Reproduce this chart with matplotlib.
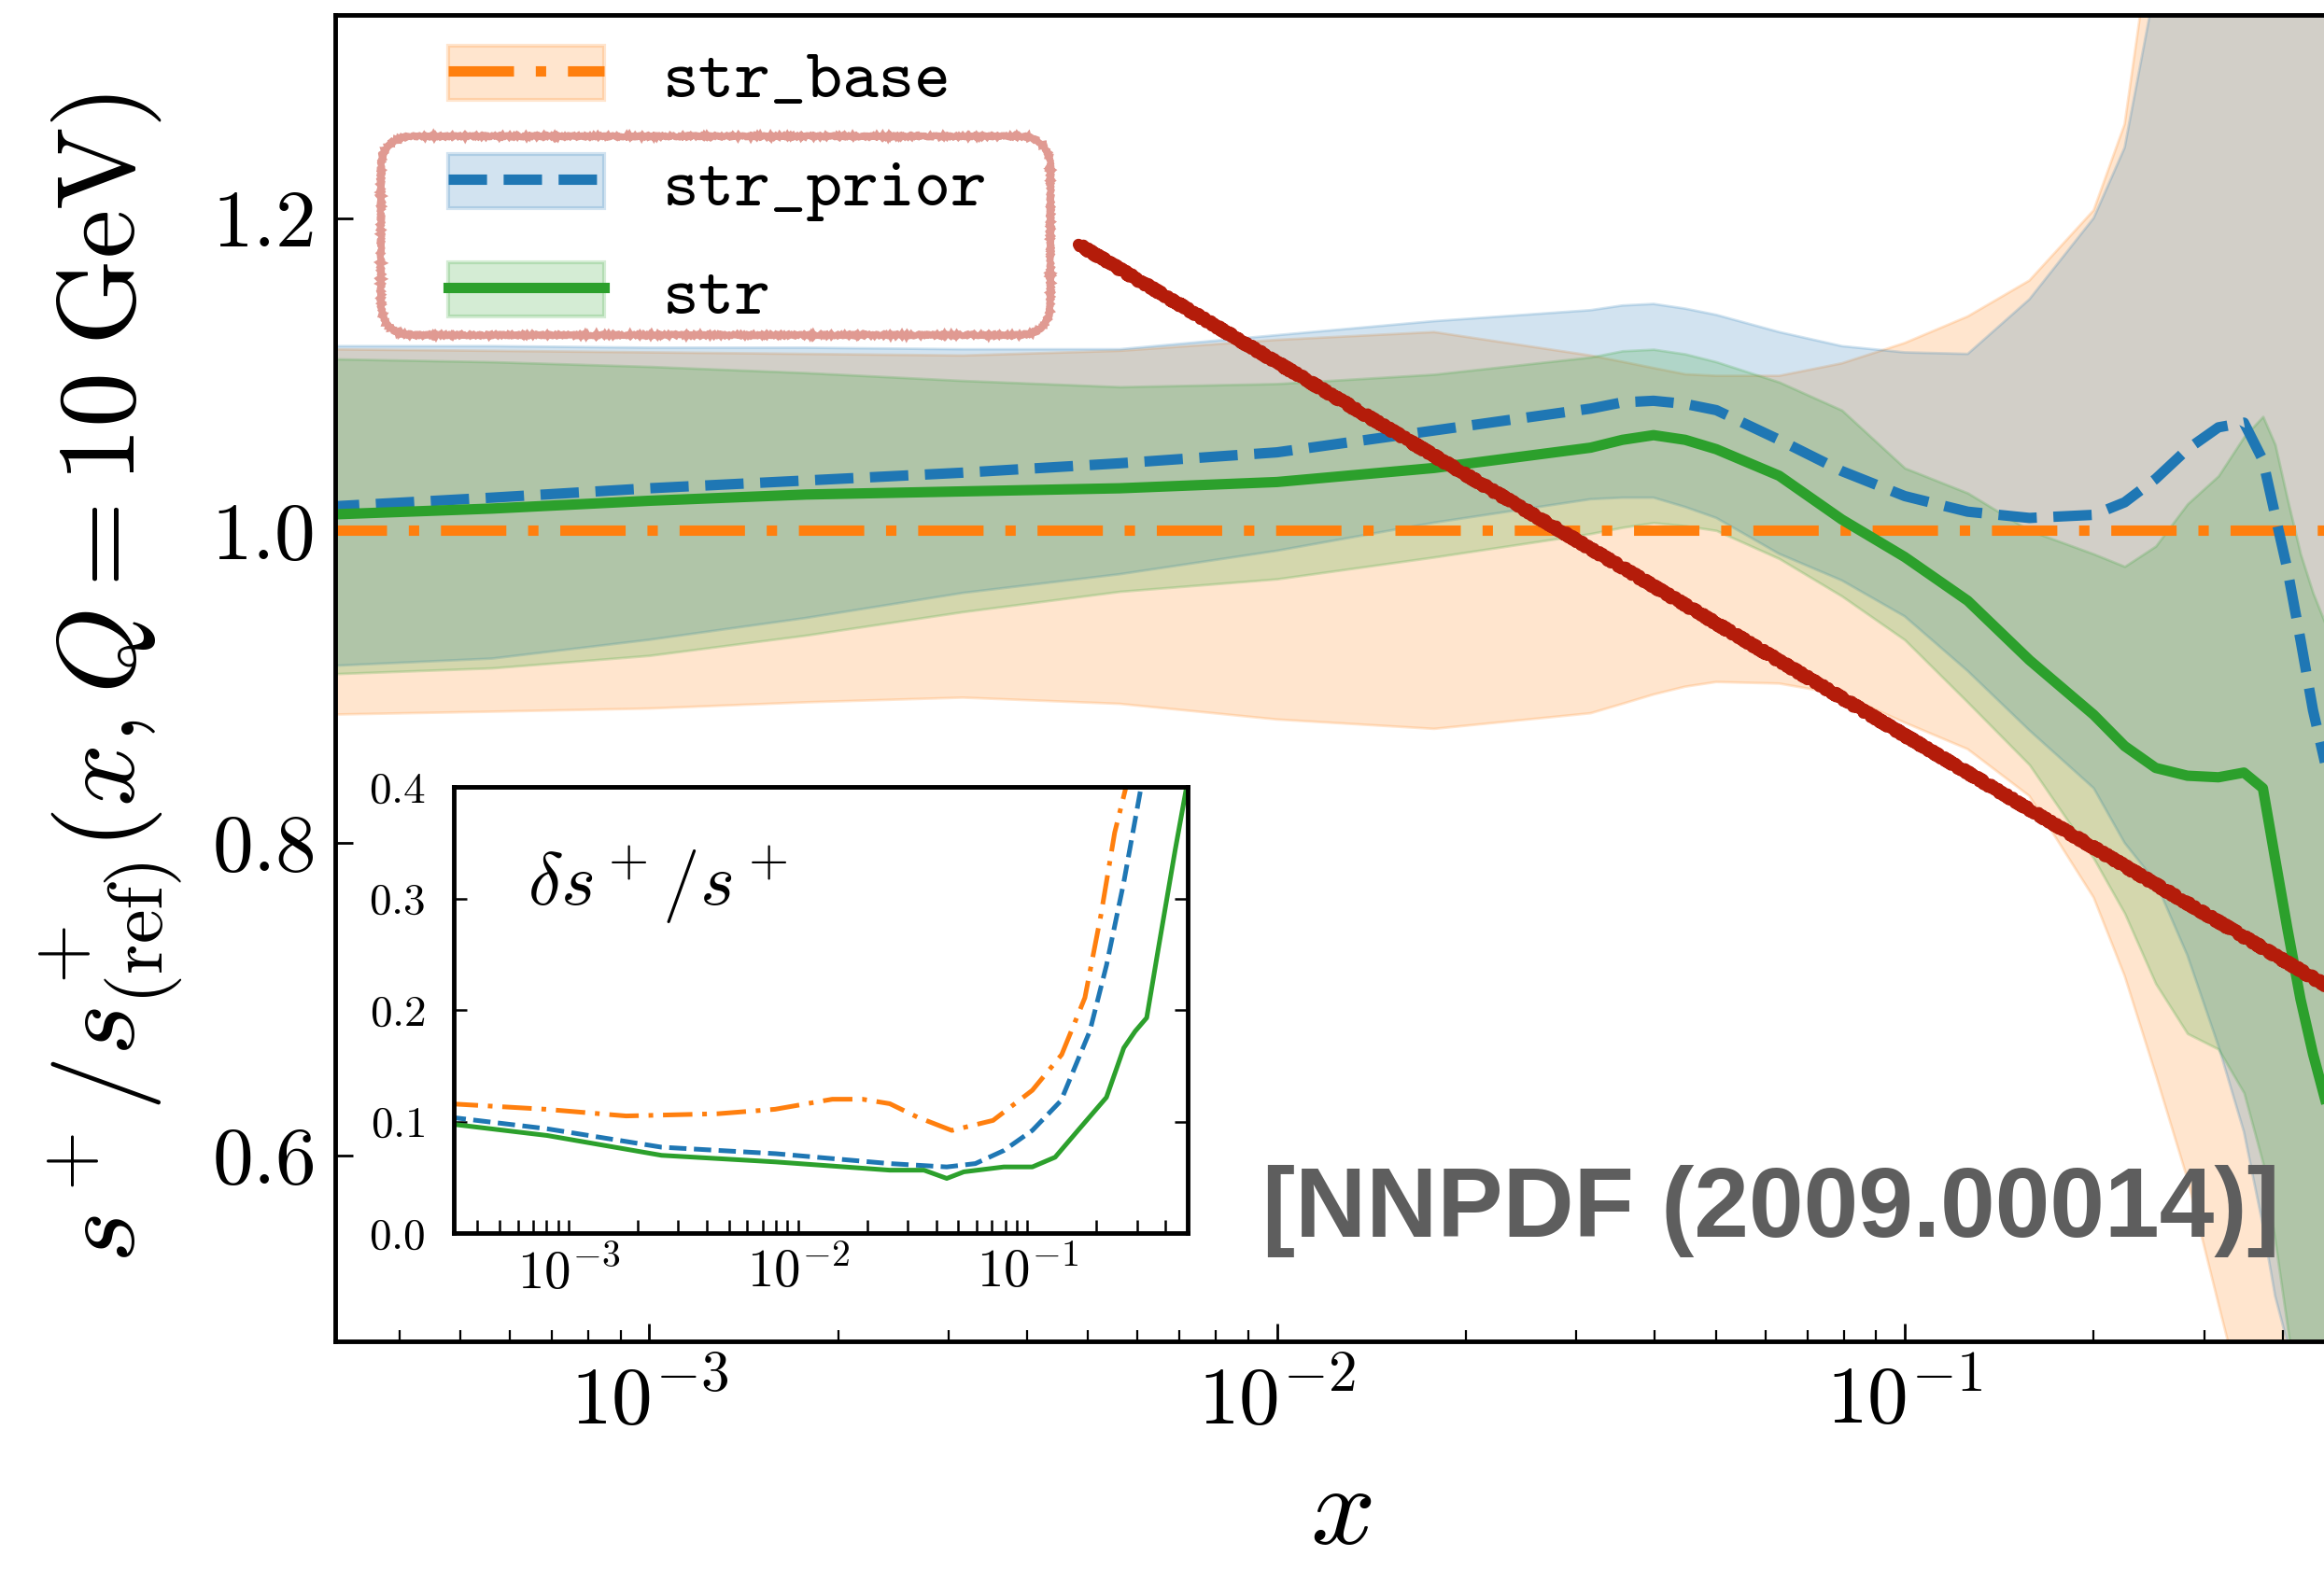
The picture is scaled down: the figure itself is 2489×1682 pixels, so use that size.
import matplotlib
matplotlib.use("Agg")
import matplotlib.pyplot as plt
from matplotlib.lines import Line2D
from matplotlib.patches import Patch, FancyBboxPatch

plt.rcParams.update({
    "font.family": "serif",
    "font.serif": ["cmr10"],
    "mathtext.fontset": "cm",
    "axes.formatter.use_mathtext": True,
})

C_BASE, C_PRIOR, C_STR = "#ff7f0e", "#1f77b4", "#2ca02c"

# ---- main panel: s+ ratio to reference, Q = 10 GeV ----
x_main = [3.0e-4, 5.62e-4, 1.0e-3, 1.78e-3, 3.16e-3, 5.62e-3, 0.01, 0.0178, 0.0316,
          0.0355, 0.0398, 0.0447, 0.0501, 0.0631, 0.0794, 0.1, 0.126, 0.158, 0.2,
          0.224, 0.251, 0.282, 0.316, 0.347, 0.372, 0.389, 0.407, 0.427, 0.447,
          0.468, 0.52]

base_central = [1.0] * len(x_main)
base_upper = [1.116, 1.115, 1.114, 1.113, 1.112, 1.115, 1.122, 1.127, 1.112,
              1.108, 1.104, 1.100, 1.099, 1.099, 1.107, 1.12, 1.137, 1.16, 1.205,
              1.26, 1.40, 1.55, 1.70, 1.80, 1.85, 1.9, 1.9, 1.9, 1.9, 1.9, 1.9]
base_lower = [0.882, 0.884, 0.886, 0.890, 0.893, 0.889, 0.879, 0.873, 0.883,
              0.889, 0.895, 0.900, 0.903, 0.902, 0.895, 0.877, 0.86, 0.83, 0.765,
              0.715, 0.652, 0.585, 0.505, 0.44, 0.38, 0.34, 0.30, 0.26, 0.22, 0.18, 0.12]

prior_central = [1.015, 1.021, 1.027, 1.032, 1.037, 1.043, 1.050, 1.064, 1.078,
                 1.082, 1.083, 1.081, 1.077, 1.058, 1.038, 1.022, 1.012, 1.008, 1.010,
                 1.018, 1.033, 1.052, 1.066, 1.069, 1.045, 1.01, 0.975, 0.93, 0.885,
                 0.85, 0.79]
prior_upper = [1.118, 1.118, 1.117, 1.117, 1.116, 1.116, 1.125, 1.134, 1.141,
               1.144, 1.145, 1.142, 1.138, 1.127, 1.118, 1.114, 1.113, 1.148, 1.20,
               1.245, 1.35, 1.5, 1.65, 1.75, 1.8, 1.85, 1.85, 1.85, 1.85, 1.85, 1.85]
prior_lower = [0.913, 0.918, 0.930, 0.944, 0.960, 0.972, 0.987, 1.005, 1.020,
               1.021, 1.021, 1.015, 1.008, 0.985, 0.968, 0.945, 0.91, 0.872, 0.835,
               0.80, 0.775, 0.728, 0.67, 0.615, 0.555, 0.51, 0.48, 0.43, 0.38, 0.33, 0.25]

str_central = [1.010, 1.014, 1.019, 1.023, 1.025, 1.027, 1.031, 1.040, 1.053,
               1.058, 1.061, 1.058, 1.052, 1.035, 1.007, 0.983, 0.955, 0.917, 0.882,
               0.862, 0.848, 0.843, 0.842, 0.845, 0.835, 0.79, 0.745, 0.70, 0.665,
               0.635, 0.56]
str_upper = [1.110, 1.108, 1.105, 1.101, 1.096, 1.092, 1.094, 1.100, 1.111,
             1.115, 1.116, 1.113, 1.108, 1.095, 1.077, 1.04, 1.024, 1.0, 0.985,
             0.977, 0.99, 1.017, 1.035, 1.06, 1.073, 1.055, 1.02, 0.985, 0.96, 0.94, 0.90]
str_lower = [0.908, 0.912, 0.920, 0.933, 0.948, 0.961, 0.969, 0.983, 0.998,
             1.002, 1.005, 1.003, 1.000, 0.982, 0.958, 0.93, 0.89, 0.85, 0.79,
             0.755, 0.71, 0.678, 0.668, 0.64, 0.595, 0.545, 0.49, 0.43, 0.38, 0.33, 0.25]

# ---- inset: relative uncertainty delta s+/s+ ----
x_in_base = [3.0e-4, 7.94e-4, 1.78e-3, 4.47e-3, 7.94e-3, 0.0141, 0.0191, 0.0251,
             0.0331, 0.0468, 0.0708, 0.105, 0.141, 0.178, 0.209, 0.240, 0.269, 0.282]
rel_base = [0.116, 0.111, 0.105, 0.107, 0.111, 0.120, 0.120, 0.116, 0.104, 0.092,
            0.101, 0.128, 0.160, 0.211, 0.285, 0.359, 0.40, 0.43]
x_in_prior = [3.0e-4, 8.05e-4, 2.54e-3, 7.98e-3, 0.0251, 0.0445, 0.0593, 0.0789,
              0.105, 0.140, 0.187, 0.221, 0.263, 0.313, 0.331]
rel_prior = [0.104, 0.0935, 0.077, 0.0712, 0.0623, 0.0593, 0.0623, 0.074, 0.092,
             0.1187, 0.181, 0.240, 0.3145, 0.40, 0.44]
x_in_str = [3.0e-4, 8.05e-4, 2.54e-3, 7.98e-3, 0.0251, 0.0354, 0.0445, 0.0528, 0.0789,
            0.105, 0.132, 0.166, 0.221, 0.263, 0.295, 0.331, 0.372, 0.441, 0.494]
rel_str = [0.098, 0.0875, 0.0697, 0.0638, 0.0564, 0.0564, 0.049, 0.0549, 0.0593,
           0.0593, 0.068, 0.092, 0.1217, 0.166, 0.181, 0.193, 0.255, 0.344, 0.40]

# hand-drawn red stroke across the plot (data coords of its two ends)
stroke_x = [4.83e-3, 0.5]
stroke_y = [1.183, 0.702]

labels = ["str_base", "str_prior", "str"]

fig = plt.figure(figsize=(24.89, 16.82), dpi=100)
ax = fig.add_axes([0.1442, 0.1457, 0.8642, 0.8448])

bands = [(base_lower, base_upper, C_BASE),
         (prior_lower, prior_upper, C_PRIOR),
         (str_lower, str_upper, C_STR)]
for lo, hi, col in bands:
    ax.fill_between(x_main, lo, hi, color=col, alpha=0.2, linewidth=2)

base_ls = (0, (6.3, 2.1, 1.0, 2.1))
ax.plot(x_main, base_central, color=C_BASE, lw=8, ls=base_ls)
ax.plot(x_main, prior_central, color=C_PRIOR, lw=8, ls="--", dash_joinstyle="round")
ax.plot(x_main, str_central, color=C_STR, lw=8, solid_joinstyle="round")

ax.set_xscale("log")
ax.set_xlim(3.16e-4, 0.5)
ax.set_ylim(0.481, 1.33)
ax.set_yticks([0.6, 0.8, 1.0, 1.2])
ax.tick_params(which="both", direction="in", top=False, right=True)
ax.tick_params(which="major", length=14, width=2, labelsize=63, pad=16)
ax.tick_params(which="minor", length=9, width=1.6)
for sp in ax.spines.values():
    sp.set_linewidth(3.5)

ax.set_xlabel(r"$x$", fontsize=88)
ax.xaxis.set_label_coords(0.501, -0.093)
ax.set_ylabel(r"$s^+/s^+_{\mathrm{(ref)}}(x,Q=10\;\mathrm{GeV})$", fontsize=85)
ax.yaxis.set_label_coords(-0.075, 0.5)

handles = []
for ls, col in [(base_ls, C_BASE), ("--", C_PRIOR), ("-", C_STR)]:
    handles.append((Patch(facecolor=col, edgecolor=col, alpha=0.2, linewidth=3),
                    Line2D([], [], color=col, lw=8, ls=ls)))
ax.legend(handles, labels, loc="upper left", bbox_to_anchor=(0.0563, 0.977),
          frameon=False, borderaxespad=0, borderpad=0,
          prop={"family": "cmtt10", "size": 53},
          handlelength=2.27, handleheight=0.85, handletextpad=0.85, labelspacing=0.6)

ax.text(0.4616, 0.0788, "[NNPDF (2009.00014)]", transform=ax.transAxes,
        fontfamily="Liberation Sans", fontweight="bold", fontsize=76,
        color="#5e5e5e", va="baseline", zorder=6)

stroke, = ax.plot(stroke_x, stroke_y, color="#b41c0a", lw=9, solid_capstyle="round",
                  zorder=8, clip_on=False)
stroke.set_sketch_params(scale=2, length=6, randomness=4)

box = FancyBboxPatch((0.1639, 0.7866), 0.452 - 0.1639, 0.9132 - 0.7866,
                     boxstyle="round,pad=0,rounding_size=0.014",
                     mutation_aspect=2489 / 1682, transform=fig.transFigure,
                     facecolor="none", edgecolor="#e09a92", linewidth=5, zorder=9)
box.set_sketch_params(scale=1.0, length=4, randomness=3)
fig.add_artist(box)

# inset
axin = fig.add_axes([0.1953, 0.2146, 0.3158, 0.2842])
axin.plot(x_in_base, rel_base, color=C_BASE, lw=3.6, ls=base_ls)
axin.plot(x_in_prior, rel_prior, color=C_PRIOR, lw=3.6, ls="--")
axin.plot(x_in_str, rel_str, color=C_STR, lw=3.6)
axin.set_xscale("log")
axin.set_xlim(3.16e-4, 0.5)
axin.set_ylim(0, 0.4)
axin.set_yticks([0.0, 0.1, 0.2, 0.3, 0.4])
axin.tick_params(which="both", direction="in", top=False, right=True,
                 length=10, width=1.8)
axin.tick_params(axis="y", labelsize=34, pad=22)
axin.tick_params(axis="x", labelsize=41, pad=10)
for sp in axin.spines.values():
    sp.set_linewidth(3.5)
axin.text(0.10, 0.78, r"$\delta s^+/s^+$", transform=axin.transAxes,
          fontsize=57, va="center")

fig.savefig("out.png", dpi=100)
